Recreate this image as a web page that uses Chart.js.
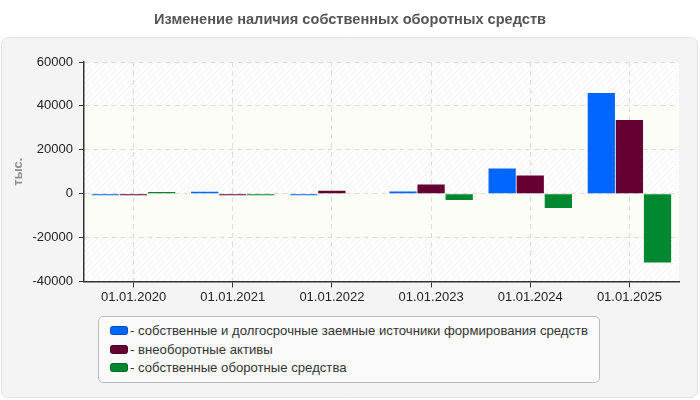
<!DOCTYPE html>
<html>
<head>
<meta charset="utf-8">
<script src="https://cdn.jsdelivr.net/npm/chart.js@4.4.1/dist/chart.umd.min.js"></script>
<style>
  body { margin: 0; background: #fff; font-family: "Liberation Sans", Arial, sans-serif; }
  #wrap { position: relative; width: 700px; height: 400px; }
  #legend {
    position: absolute; left: 98px; top: 316px; width: 502px; height: 67px;
    border: 1px solid #bbb; border-radius: 5px; background: #fafafa;
    box-sizing: border-box; padding: 5px 0 0 11px;
    font-size: 13.15px; color: #333;
  }
  #legend div { height: 18.5px; line-height: 18.5px; white-space: nowrap; }
  #legend span.sw {
    display: inline-block; width: 16px; height: 7px; border-radius: 3px;
    vertical-align: middle; margin-right: 2px; position: relative; top: -1px;
    border: 1px solid rgba(0,0,0,0.25);
  }
</style>
</head>
<body>
<div id="wrap">
  <canvas id="chart" width="700" height="400"></canvas>
  <div id="legend"></div>
</div>
<script>
// data
const categories = ['01.01.2020', '01.01.2021', '01.01.2022', '01.01.2023', '01.01.2024', '01.01.2025'];
const ownLongTerm = [-700, 900, -700, 1000, 11500, 45900];
const nonCurrent = [-700, -700, 1300, 4200, 8300, 33600];
const workingCapital = [800, -700, -300, -2900, -6500, -31400];
const seriesNames = [
  'собственные и долгосрочные заемные источники формирования средств',
  'внеоборотные активы',
  'собственные оборотные средства'
];
const seriesColors = ['#0066ff', '#660033', '#008830'];
const yTicks = [-40000, -20000, 0, 20000, 40000, 60000];

// hatch pattern for plot bands
function makeHatch() {
  const c = document.createElement('canvas');
  c.width = 6; c.height = 6;
  const g = c.getContext('2d');
  g.fillStyle = '#ffffff';
  g.fillRect(0, 0, 6, 6);
  g.strokeStyle = '#efefef';
  g.lineWidth = 1;
  g.beginPath();
  g.moveTo(0, 6); g.lineTo(6, 0);
  g.moveTo(-3, 3); g.lineTo(3, -3);
  g.moveTo(3, 9); g.lineTo(9, 3);
  g.stroke();
  return g.createPattern(c, 'repeat');
}

function roundRect(ctx, x, y, w, h, r) {
  ctx.beginPath();
  ctx.moveTo(x + r, y);
  ctx.lineTo(x + w - r, y);
  ctx.quadraticCurveTo(x + w, y, x + w, y + r);
  ctx.lineTo(x + w, y + h - r);
  ctx.quadraticCurveTo(x + w, y + h, x + w - r, y + h);
  ctx.lineTo(x + r, y + h);
  ctx.quadraticCurveTo(x, y + h, x, y + h - r);
  ctx.lineTo(x, y + r);
  ctx.quadraticCurveTo(x, y, x + r, y);
  ctx.closePath();
}

const panelPlugin = {
  id: 'panel',
  beforeDraw(chart) {
    const ctx = chart.ctx;
    const area = chart.chartArea;
    const y = chart.scales.y;
    ctx.save();
    roundRect(ctx, 1.5, 37.5, 696, 360, 8);
    ctx.fillStyle = '#f4f4f4';
    ctx.fill();
    ctx.strokeStyle = '#e2e2e2';
    ctx.stroke();

    const hatch = makeHatch();
    for (let i = 0; i < yTicks.length - 1; i++) {
      const top = y.getPixelForValue(yTicks[i + 1]);
      const bot = y.getPixelForValue(yTicks[i]);
      ctx.fillStyle = (i % 2 === 0) ? hatch : '#fdfdf8';
      ctx.fillRect(area.left, top, area.right - area.left, bot - top);
    }
    ctx.restore();
  }
};

const ctx = document.getElementById('chart').getContext('2d');
new Chart(ctx, {
  type: 'bar',
  data: {
    labels: categories,
    datasets: [ownLongTerm, nonCurrent, workingCapital].map((d, i) => ({
      label: seriesNames[i],
      data: d,
      backgroundColor: seriesColors[i],
      categoryPercentage: 0.85,
      barPercentage: 0.97
    }))
  },
  options: {
    responsive: false,
    animation: false,
    layout: { padding: { left: 21, right: 21, top: 0, bottom: 93 } },
    plugins: {
      legend: { display: false },
      tooltip: { enabled: false },
      title: {
        display: true,
        text: 'Изменение наличия собственных оборотных средств',
        color: '#555',
        font: { family: 'Liberation Sans', size: 14.6, weight: 'bold' },
        padding: { top: 11, bottom: 33.5 }
      }
    },
    scales: {
      x: {
        grid: {
          offset: false,
          color: '#dddddd',
          tickColor: '#333',
          tickLength: 6
        },
        border: { color: '#333', width: 1.5, dash: [5, 4] },
        ticks: { color: '#222', font: { family: 'Liberation Sans', size: 13 }, padding: 2 }
      },
      y: {
        min: -40000,
        max: 60000,
        grid: { color: '#dddddd', tickColor: '#333', tickLength: 5 },
        border: { color: '#333', width: 1.5, dash: [5, 4] },
        afterFit: scale => { scale.width = 63; },
        ticks: {
          stepSize: 20000,
          color: '#222',
          padding: 6,
          font: { family: 'Liberation Sans', size: 13 },
          callback: v => String(v)
        },
        title: {
          display: true,
          text: 'тыс.',
          color: '#8f8f8f',
          font: { family: 'Liberation Sans', size: 13, weight: 'bold' },
          padding: { top: -10, bottom: 0 }
        }
      }
    }
  },
  plugins: [panelPlugin]
});

// legend box
const legend = document.getElementById('legend');
seriesNames.forEach((name, i) => {
  const row = document.createElement('div');
  const sw = document.createElement('span');
  sw.className = 'sw';
  sw.style.background = seriesColors[i];
  row.appendChild(sw);
  row.appendChild(document.createTextNode('- ' + name));
  legend.appendChild(row);
});
</script>
</body>
</html>
